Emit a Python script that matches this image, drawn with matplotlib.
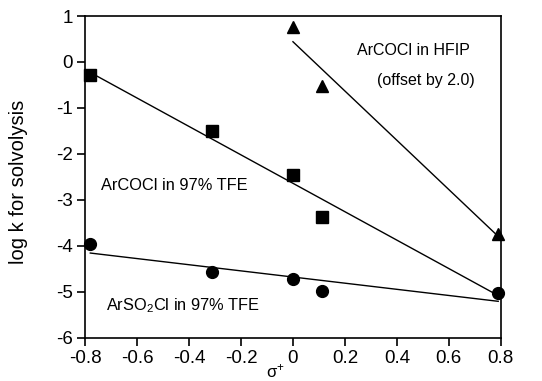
import numpy as np
import matplotlib
matplotlib.use("Agg")
import matplotlib.pyplot as plt

plt.rcParams["font.family"] = ["Liberation Sans", "DejaVu Sans"]
plt.rcParams["axes.unicode_minus"] = False

# sigma+ values and log k
x_cocl_tfe = [-0.78, -0.31, 0.0, 0.11, 0.79]
y_cocl_tfe = [-0.28, -1.49, -2.45, -3.38, -5.00]

x_cocl_hfip = [0.0, 0.11, 0.79]
y_cocl_hfip = [0.76, -0.52, -3.74]

x_so2cl_tfe = [-0.78, -0.31, 0.0, 0.11, 0.79]
y_so2cl_tfe = [-3.96, -4.57, -4.72, -4.98, -5.02]

x_ticks = [-0.8, -0.6, -0.4, -0.2, 0, 0.2, 0.4, 0.6, 0.8]
x_ticklabels = ["-0.8", "-0.6", "-0.4", "-0.2", "0", "0.2", "0.4", "0.6", "0.8"]
y_ticks = [-6, -5, -4, -3, -2, -1, 0, 1]
y_ticklabels = ["-6", "-5", "-4", "-3", "-2", "-1", "0", "1"]


def fit_line(ax, xs, ys):
    m, b = np.polyfit(xs, ys, 1)
    xx = np.array([min(xs), max(xs)])
    ax.plot(xx, m * xx + b, color="black", lw=1.0, zorder=2)


fig = plt.figure(figsize=(5.42, 3.81), dpi=100)
ax = fig.add_axes([0.157, 0.113, 0.767, 0.845])

for xs, ys in [(x_cocl_tfe, y_cocl_tfe), (x_cocl_hfip, y_cocl_hfip),
               (x_so2cl_tfe, y_so2cl_tfe)]:
    fit_line(ax, xs, ys)

# last square sits under the circle at sigma+ = 0.79, not visible in the original
ax.plot(x_cocl_tfe, y_cocl_tfe, "s", color="black", ms=8.5, clip_on=False,
        zorder=3, markevery=[0, 1, 2, 3])
ax.plot(x_cocl_hfip, y_cocl_hfip, "^", color="black", ms=8.5, clip_on=False, zorder=3)
ax.plot(x_so2cl_tfe, y_so2cl_tfe, "o", color="black", ms=8.5, clip_on=False, zorder=4)

ax.set_xlim(-0.8, 0.8)
ax.set_ylim(-6, 1)
ax.set_xticks(x_ticks)
ax.set_xticklabels(x_ticklabels)
ax.set_yticks(y_ticks)
ax.set_yticklabels(y_ticklabels)
ax.tick_params(direction="out", length=6, width=1.2, labelsize=13.5, pad=3)
for s in ax.spines.values():
    s.set_linewidth(1.2)

ax.set_ylabel("log k for solvolysis", fontsize=14.5)
ax.yaxis.set_label_coords(-0.161, 0.484)
ax.yaxis.label.set_va("center")
ax.set_xlabel(r"$\mathregular{σ^{+}}$", fontsize=12)
ax.xaxis.set_label_coords(0.458, -0.075)
ax.xaxis.label.set_va("top")

ax.text(0.247, 0.16, "ArCOCl in HFIP", fontsize=11.5)
ax.text(0.325, -0.51, "(offset by 2.0)", fontsize=11.5)
ax.text(-0.74, -2.78, "ArCOCl in 97% TFE", fontsize=11.8)
ax.text(-0.72, -5.39, r"ArSO$\mathregular{_2}$Cl in 97% TFE", fontsize=11.8)

fig.savefig("out.png", dpi=100)
